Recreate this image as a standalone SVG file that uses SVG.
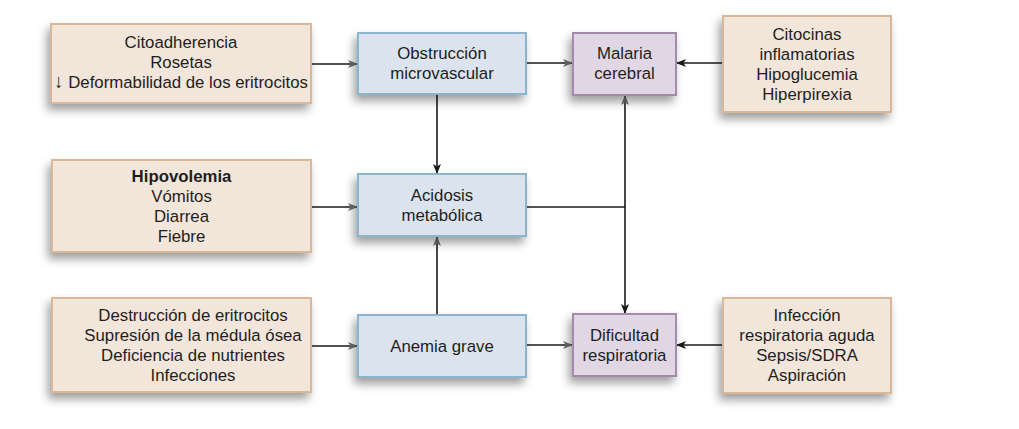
<svg xmlns="http://www.w3.org/2000/svg" width="1019" height="429" viewBox="0 0 1019 429">
<defs>
<filter id="sh" x="-20%" y="-20%" width="140%" height="160%">
<feDropShadow dx="-3" dy="6" stdDeviation="5" flood-color="#000" flood-opacity="0.38"/>
</filter>
<marker id="ab" markerWidth="10" markerHeight="8" refX="9" refY="4" orient="auto" markerUnits="userSpaceOnUse">
<path d="M0,0 L10,4 L0,8 L2.5,4 Z" fill="#1a1a1a"/>
</marker>
<marker id="ag" markerWidth="10" markerHeight="8" refX="9" refY="4" orient="auto" markerUnits="userSpaceOnUse">
<path d="M0,0 L10,4 L0,8 L2.5,4 Z" fill="#6e6e6e"/>
</marker>
</defs>
<style>
.peach{fill:#f2e5da;stroke:#d8b899;stroke-width:2;filter:url(#sh)}
.blue{fill:#dbe4ee;stroke:#8cb4cc;stroke-width:2;filter:url(#sh)}
.purp{fill:#e1d7e4;stroke:#a68aab;stroke-width:2;filter:url(#sh)}
text{font-family:"Liberation Sans",Arial,sans-serif;font-size:16.8px;fill:#1e1e1e;text-anchor:middle}
.b{font-weight:bold}
.ar{font-size:19px}
.c line,.c path{stroke:#1a1a1a;stroke-width:1.6;fill:none}
</style>
<rect width="1019" height="429" fill="#fff"/>
<g class="c" id="connectors">
<line x1="311" y1="64" x2="357" y2="64" marker-end="url(#ag)"/>
<line x1="526" y1="63" x2="572" y2="63" marker-end="url(#ag)"/>
<line x1="723" y1="63" x2="677" y2="63" marker-end="url(#ab)"/>
<line x1="437" y1="94" x2="437" y2="173" marker-end="url(#ab)"/>
<line x1="311" y1="207" x2="357" y2="207" marker-end="url(#ag)"/>
<line x1="437" y1="315" x2="437" y2="237" marker-end="url(#ag)"/>
<line x1="526" y1="207" x2="625" y2="207"/>
<line x1="625" y1="207" x2="625" y2="96" marker-end="url(#ag)"/>
<line x1="625" y1="207" x2="625" y2="313" marker-end="url(#ab)"/>
<line x1="311" y1="346" x2="357" y2="346" marker-end="url(#ag)"/>
<line x1="526" y1="345" x2="572" y2="345" marker-end="url(#ag)"/>
<line x1="723" y1="345" x2="677" y2="345" marker-end="url(#ab)"/>
</g>
<g id="n1"><rect class="peach" x="51" y="24" width="260" height="79"/>
<text x="181" y="48">Citoadherencia</text><text x="181" y="68">Rosetas</text><text x="181" y="88"><tspan class="ar">↓</tspan> Deformabilidad de los eritrocitos</text></g>
<g id="n2"><rect class="blue" x="358" y="33" width="168" height="61"/>
<text x="442" y="59">Obstrucción</text><text x="442" y="79">microvascular</text></g>
<g id="n3"><rect class="purp" x="573" y="33" width="103" height="62"/>
<text x="624.5" y="59">Malaria</text><text x="624.5" y="79">cerebral</text></g>
<g id="n4"><rect class="peach" x="723" y="16" width="168" height="96"/>
<text x="807" y="40">Citocinas</text><text x="807" y="60">inflamatorias</text><text x="807" y="80">Hipoglucemia</text><text x="807" y="100">Hiperpirexia</text></g>
<g id="n5"><rect class="peach" x="52" y="160" width="259" height="92"/>
<text class="b" x="181.5" y="182">Hipovolemia</text><text x="181.5" y="202">Vómitos</text><text x="181.5" y="222">Diarrea</text><text x="181.5" y="242">Fiebre</text></g>
<g id="n6"><rect class="blue" x="358" y="174" width="168" height="62"/>
<text x="442" y="201">Acidosis</text><text x="442" y="221">metabólica</text></g>
<g id="n7"><rect class="peach" x="52" y="298" width="259" height="94"/>
<text x="193" y="321">Destrucción de eritrocitos</text><text x="193" y="341">Supresión de la médula ósea</text><text x="193" y="361">Deficiencia de nutrientes</text><text x="193" y="381">Infecciones</text></g>
<g id="n8"><rect class="blue" x="358" y="315" width="168" height="62"/>
<text x="442" y="352">Anemia grave</text></g>
<g id="n9"><rect class="purp" x="573" y="314" width="103" height="62"/>
<text x="624.5" y="341">Dificultad</text><text x="624.5" y="361">respiratoria</text></g>
<g id="n10"><rect class="peach" x="723" y="298" width="168" height="95"/>
<text x="807" y="321">Infección</text><text x="807" y="341">respiratoria aguda</text><text x="807" y="361">Sepsis/SDRA</text><text x="807" y="381">Aspiración</text></g>
</svg>
